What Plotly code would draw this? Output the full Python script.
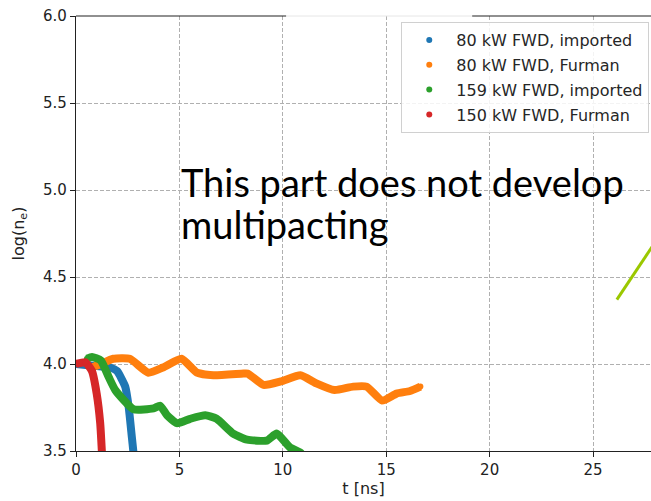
import plotly.graph_objects as go

# ---- data ----
blue_t = [0.0, 0.8, 1.65, 1.98, 2.38, 2.55, 2.7, 2.77, 2.85]
blue_y = [4.0, 3.99, 3.98, 3.96, 3.87, 3.75, 3.58, 3.5, 3.4]

orange_t = [0.85, 1.0, 1.8, 2.6, 3.5, 4.2, 5.1, 5.85, 6.65, 8.1, 8.3, 9.07, 9.9,
            10.85, 11.65, 12.5, 13.4, 14.05, 14.8, 15.5, 16.15, 16.65]
orange_y = [3.99, 3.99, 4.03, 4.03, 3.95, 3.98, 4.03, 3.95, 3.935, 3.945, 3.945, 3.88, 3.90,
            3.935, 3.887, 3.85, 3.87, 3.87, 3.79, 3.83, 3.845, 3.87]

green_t = [0.53, 0.77, 1.2, 1.58, 1.9, 2.78, 3.75, 4.07, 4.4, 4.88, 5.52, 6.25, 6.8,
           7.6, 8.27, 9.23, 9.7, 10.35, 10.85, 11.0]
green_y = [4.03, 4.04, 4.02, 3.925, 3.85, 3.74, 3.745, 3.76, 3.705, 3.66, 3.685, 3.705, 3.685,
           3.60, 3.565, 3.56, 3.60, 3.52, 3.49, 3.47]

red_t = [0.0, 0.45, 0.77, 1.0, 1.17, 1.25, 1.3]
red_y = [4.0, 4.01, 3.96, 3.83, 3.66, 3.5, 3.4]

extra_t = [26.15, 28.0]
extra_y = [4.37, 4.70]

names = ["80 kW FWD, imported", "80 kW FWD, Furman", "159 kW FWD, imported", "150 kW FWD, Furman"]
colors = ["#1f77b4", "#ff7f0e", "#2ca02c", "#d62728"]
series = [(blue_t, blue_y), (orange_t, orange_y), (green_t, green_y), (red_t, red_y)]

x_ticks = [0, 5, 10, 15, 20, 25]
y_ticks = [3.5, 4.0, 4.5, 5.0, 5.5, 6.0]
y_ticklabels = ["3.5", "4.0", "4.5", "5.0", "5.5", "6.0"]

annotation_lines = ["This part does not develop", "multipacting"]

fig = go.Figure()
for i, ((t, y), n, c) in enumerate(zip(series, names, colors)):
    fig.add_trace(go.Scatter(x=t, y=y, mode="lines",
                             line=dict(color=c, width=8, shape="spline", smoothing=0.5),
                             showlegend=False, hoverinfo="skip", legendgroup=f"g{i}"))
    fig.add_trace(go.Scatter(x=t, y=y, mode="markers", name=n, legendgroup=f"g{i}",
                             marker=dict(color=c, size=6)))

fig.add_trace(go.Scatter(x=extra_t, y=extra_y, mode="lines",
                         line=dict(color="#9bc800", width=3), showlegend=False))

tickfont = dict(family="DejaVu Sans", size=15, color="#222")
fig.update_layout(
    width=651, height=501,
    margin=dict(l=76, r=0, t=16, b=50),
    plot_bgcolor="white", paper_bgcolor="white",
    font=dict(family="DejaVu Sans", size=16, color="#222"),
    xaxis=dict(range=[0, 27.8], tickvals=x_ticks, ticks="outside", ticklen=5,
               tickcolor="#222", tickfont=tickfont, showline=True, linecolor="#222",
               linewidth=1.2, showgrid=True, gridcolor="#b0b0b0", griddash="4px,2px",
               gridwidth=1, zeroline=False,
               title=dict(text="t [ns]", font=dict(size=16), standoff=4)),
    yaxis=dict(range=[3.5, 6.0], tickvals=y_ticks, ticktext=y_ticklabels, ticks="outside",
               ticklen=5, tickcolor="#222", tickfont=tickfont, showline=True,
               linecolor="#222", linewidth=1.2, showgrid=True, gridcolor="#b0b0b0",
               griddash="4px,2px", gridwidth=1, zeroline=False,
               title=dict(text="log(n<sub>e</sub>)", font=dict(size=16), standoff=14)),
    legend=dict(x=0.997, y=0.986, xanchor="right", yanchor="top",
                bgcolor="rgba(255,255,255,0.85)", bordercolor="#d0d0d0", borderwidth=1,
                font=dict(family="DejaVu Sans", size=16, color="#262626"),
                traceorder="grouped", tracegroupgap=1, itemwidth=44),
    showlegend=True,
)

fig.add_annotation(x=5.0, y=5.19, xref="x", yref="y", xanchor="left", yanchor="top",
                   text=annotation_lines[0], showarrow=False, align="left",
                   font=dict(family="Lato", size=38, color="black"))
fig.add_annotation(x=5.0, y=4.948, xref="x", yref="y", xanchor="left", yanchor="top",
                   text=annotation_lines[1], showarrow=False, align="left",
                   font=dict(family="Lato", size=38, color="black"))

# top spine (partly covered in the original)
fig.add_shape(type="line", xref="paper", yref="paper", x0=0, x1=0.3655, y0=1, y1=1,
              line=dict(color="#222", width=1.2))
fig.add_shape(type="line", xref="paper", yref="paper", x0=0.3655, x1=0.689, y0=1, y1=1,
              line=dict(color="#e6e6e6", width=1))
fig.add_shape(type="line", xref="paper", yref="paper", x0=0.689, x1=1, y0=1, y1=1,
              line=dict(color="#222", width=1.2))

fig.write_html("out.html")
